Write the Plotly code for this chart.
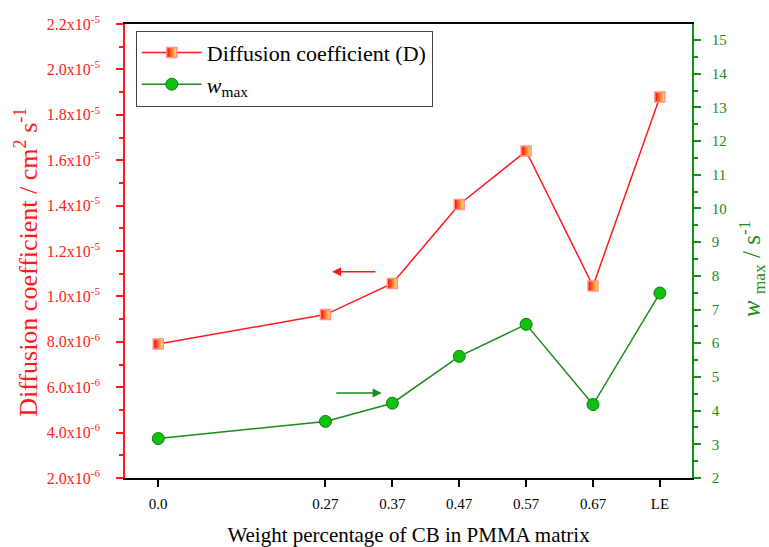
import plotly.graph_objects as go

# ---- data ----
x_labels = ["0.0", "0.27", "0.37", "0.47", "0.57", "0.67", "LE"]
x_pos = [0.02, 0.27, 0.37, 0.47, 0.57, 0.67, 0.77]
diff_coef = [7.9e-6, 9.2e-6, 1.057e-5, 1.405e-5, 1.64e-5, 1.046e-5, 1.878e-5]
w_max = [3.17, 3.68, 4.22, 5.61, 6.56, 4.18, 7.49]

left_tickvals = [2e-6 * k for k in range(1, 12)]
left_ticktext = ["2.0x10<sup>-6</sup>", "4.0x10<sup>-6</sup>", "6.0x10<sup>-6</sup>",
                 "8.0x10<sup>-6</sup>", "1.0x10<sup>-5</sup>", "1.2x10<sup>-5</sup>",
                 "1.4x10<sup>-5</sup>", "1.6x10<sup>-5</sup>", "1.8x10<sup>-5</sup>",
                 "2.0x10<sup>-5</sup>", "2.2x10<sup>-5</sup>"]

RED = "#ff1a1a"
GREEN = "#1a8c1a"
FONT = "Liberation Serif"

fig = go.Figure()
fig.add_trace(go.Scatter(
    x=x_pos, y=diff_coef, mode="lines+markers", name="Diffusion coefficient (D)",
    line=dict(color=RED, width=1.5),
    marker=dict(symbol="square", size=10, color="#ff0000",
                gradient=dict(type="horizontal", color="#ffee66"),
                line=dict(color="#ff9090", width=1.5)),
    yaxis="y"))
fig.add_trace(go.Scatter(
    x=x_pos, y=w_max, mode="lines+markers", name="<i>w</i><sub>max</sub>",
    line=dict(color=GREEN, width=1.5),
    marker=dict(symbol="circle", size=12, color="#10c010",
                line=dict(color="#0a800a", width=1)),
    yaxis="y2"))

fig.update_layout(
    width=769, height=547,
    margin=dict(l=125, r=77, t=24, b=69, autoexpand=False),
    paper_bgcolor="white", plot_bgcolor="white",
    font=dict(family=FONT, size=15, color="black"),
    showlegend=True,
    legend=dict(x=0.019, y=0.985, xanchor="left", yanchor="top",
                bgcolor="white", bordercolor="#444", borderwidth=1,
                font=dict(family=FONT, size=22, color="black"),
                tracegroupgap=0, itemwidth=60),
    xaxis=dict(range=[-0.0297, 0.818], tickmode="array", tickvals=x_pos, ticktext=x_labels,
               showline=True, linecolor="black", linewidth=1.5, mirror=True,
               ticks="outside", ticklen=7, tickcolor="black", tickwidth=1.5,
               ticklabelstandoff=4, automargin=False,
               showgrid=False, zeroline=False,
               tickfont=dict(family=FONT, size=15, color="black"),
               title=dict(text="Weight percentage of CB in PMMA matrix",
                          font=dict(family=FONT, size=21, color="black"), standoff=18)),
    yaxis=dict(range=[2e-6, 2.2e-5], tickmode="array", tickvals=left_tickvals, ticktext=left_ticktext,
               showline=True, linecolor=RED, linewidth=1.5,
               ticks="outside", ticklen=7, tickcolor=RED, tickwidth=1.5,
               ticklabelstandoff=13, automargin=False,
               minor=dict(ticks="outside", ticklen=4, tickcolor=RED, tickwidth=1.5,
                          tick0=1e-6, dtick=2e-6, showgrid=False),
               showgrid=False, zeroline=False,
               tickfont=dict(family=FONT, size=16, color=RED)),
    yaxis2=dict(range=[2, 15.475], overlaying="y", side="right",
                tickmode="linear", tick0=2, dtick=1,
                showline=True, linecolor=GREEN, linewidth=1.5,
                ticks="outside", ticklen=7, tickcolor=GREEN, tickwidth=1.5,
                ticklabelstandoff=8, automargin=False,
                minor=dict(ticks="outside", ticklen=4, tickcolor=GREEN, tickwidth=1.5,
                           tick0=2.5, dtick=1, showgrid=False),
                showgrid=False, zeroline=False,
                tickfont=dict(family=FONT, size=15, color=GREEN)),
    annotations=[
        dict(x=0.280, y=1.109e-5, xref="x", yref="y", ax=0.347, ay=1.109e-5,
             axref="x", ayref="y", text="", showarrow=True, arrowhead=2,
             arrowsize=1.2, arrowwidth=1.5, arrowcolor=RED),
        dict(x=0.354, y=4.52, xref="x", yref="y2", ax=0.284, ay=4.52,
             axref="x", ayref="y2", text="", showarrow=True, arrowhead=2,
             arrowsize=1.2, arrowwidth=1.5, arrowcolor=GREEN),
        dict(text="Diffusion coefficient / cm<sup>2</sup> s<sup>-1</sup>",
             xref="paper", yref="paper", x=-0.1728, y=0.474, textangle=-90,
             showarrow=False, xanchor="center", yanchor="middle",
             font=dict(family=FONT, size=26, color=RED)),
        dict(text="<i>w</i> <sub>max</sub> / s<sup>-1</sup>",
             xref="paper", yref="paper", x=1.1058, y=0.462, textangle=-90,
             showarrow=False, xanchor="center", yanchor="middle",
             font=dict(family=FONT, size=25, color=GREEN)),
    ],
)

fig.write_html("out.html")
